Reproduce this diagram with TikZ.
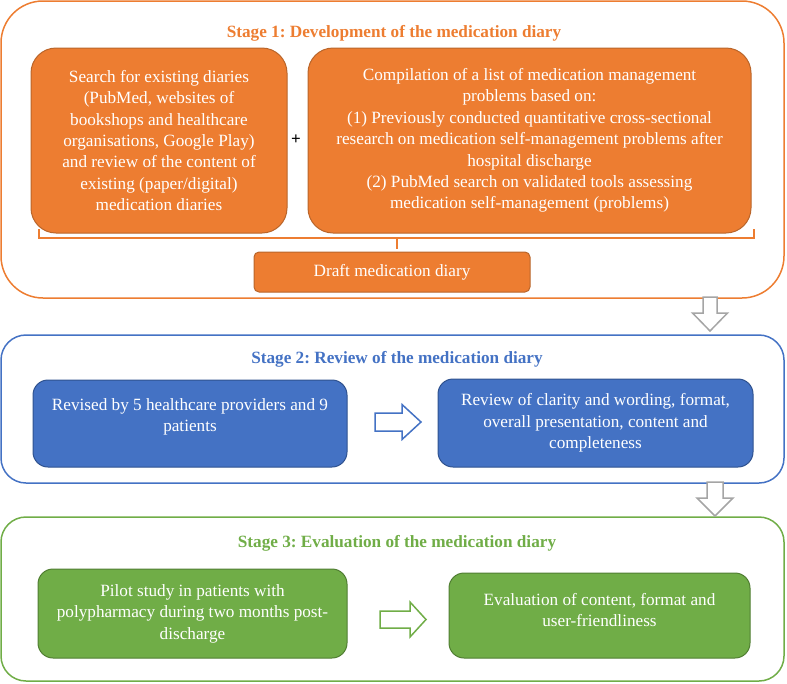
\documentclass[tikz,border=0pt]{standalone}
\usepackage{fontspec}
\setmainfont{Liberation Serif}
\frenchspacing
\definecolor{orA}{HTML}{ED7D31}
\definecolor{orB}{HTML}{B9652A}
\definecolor{blA}{HTML}{4472C4}
\definecolor{blB}{HTML}{2F528F}
\definecolor{grA}{HTML}{70AD47}
\definecolor{grB}{HTML}{507E32}
\definecolor{grayA}{HTML}{A5A5A5}
\begin{document}
\begin{tikzpicture}[x=1pt,y=-1pt,
  frame/.style={draw=#1, line width=1.5pt},
  title/.style={text=#1, font=\fontsize{17.2}{20}\selectfont\bfseries\frenchspacing, inner sep=0pt},
  box/.style={draw=#1, line width=1pt, inner sep=0pt, align=center, text=white,
    font=\fontsize{17.2}{21.4}\selectfont\frenchspacing},
  txt/.style={inner sep=0pt, align=center, text=white, font=\fontsize{17.2}{21.4}\selectfont\frenchspacing},
  blockarrow/.style={draw=#1, line width=1.5pt, fill=white, line join=miter}
]
\useasboundingbox (0,0) rectangle (787,683);

% Stage frames
\draw[frame=orA, rounded corners=42pt] (1,1) rectangle (784,298);
\draw[frame=blA, rounded corners=25pt] (1,335) rectangle (784,483);
\draw[frame=grA, rounded corners=25pt] (1,517) rectangle (784,681);

% Titles
\node[title=orA] (t1) at (394,33) {Stage 1: Development of the medication diary};
\node[title=blA] (t2) at (397,359) {Stage 2: Review of the medication diary};
\node[title=grA] (t3) at (397,543) {Stage 3: Evaluation of the medication diary};

% Stage 1
\node[box=orB, fill=orA, rounded corners=25pt, minimum width=256pt, minimum height=185pt] (A) at (159,140.5)
 {Search for existing diaries\\(PubMed, websites of\\bookshops and healthcare\\organisations, Google Play)\\and review of the content of\\existing (paper/digital)\\medication diaries};
\node[box=orB, fill=orA, rounded corners=25pt, minimum width=443pt, minimum height=185pt] (B) at (529.5,140.5)
 {Compilation of a list of medication management\\problems based on:\\(1) Previously conducted quantitative cross-sectional\\research on medication self-management problems after\\hospital discharge\\(2) PubMed search on validated tools assessing\\medication self-management (problems)};
\node[inner sep=0pt, font=\fontsize{17}{17}\selectfont\bfseries] (plus) at (296,140) {+};

\coordinate (bl) at (39,229);
\coordinate (br) at (754,229);
\coordinate (bm) at (397,238);
\node[box=orB, fill=orA, rounded corners=5pt, minimum width=276pt, minimum height=40pt] (D0) at (392,272) {Draft medication diary};
\draw[orA, line width=1.3pt] (bl) -- (39,238) -- (754,238) -- (br);
\draw[orA, line width=1.3pt] (bm) -- (397,249);

% Stage 2
\node[box=blB, fill=blA, rounded corners=15pt, minimum width=314pt, minimum height=87pt] (C) at (190,423.5) {};
\node[txt] (Ct) at (190,417) {Revised by 5 healthcare providers and 9\\patients};
\node[box=blB, fill=blA, rounded corners=15pt, minimum width=315pt, minimum height=88pt] (D) at (595.5,423)
 {Review of clarity and wording, format,\\overall presentation, content and\\completeness};

% Stage 3
\node[box=grB, fill=grA, rounded corners=15pt, minimum width=309pt, minimum height=89pt] (E) at (192.5,613.5)
 {Pilot study in patients with\\polypharmacy during two months post-\\discharge};
\node[box=grB, fill=grA, rounded corners=15pt, minimum width=301pt, minimum height=85pt] (F) at (599.5,615.5) {};
\node[txt] (Ft) at (599.5,610) {Evaluation of content, format and\\user-friendliness};

% Block arrows
\draw[blockarrow=grayA] (703,297) -- (717,297) -- (717,313) -- (727.5,313) -- (710,331) -- (692.5,313) -- (703,313) -- cycle;
\draw[blockarrow=grayA] (707,482) -- (723,482) -- (723,498) -- (733,498) -- (715,516) -- (697,498) -- (707,498) -- cycle;
\draw[blockarrow=blA] (375,413) -- (402,413) -- (402,404.5) -- (421,422) -- (402,439.5) -- (402,431) -- (375,431) -- cycle;
\draw[blockarrow=grA] (380,611) -- (410,611) -- (410,602) -- (426,619.5) -- (410,637) -- (410,628) -- (380,628) -- cycle;
\end{tikzpicture}
\end{document}
